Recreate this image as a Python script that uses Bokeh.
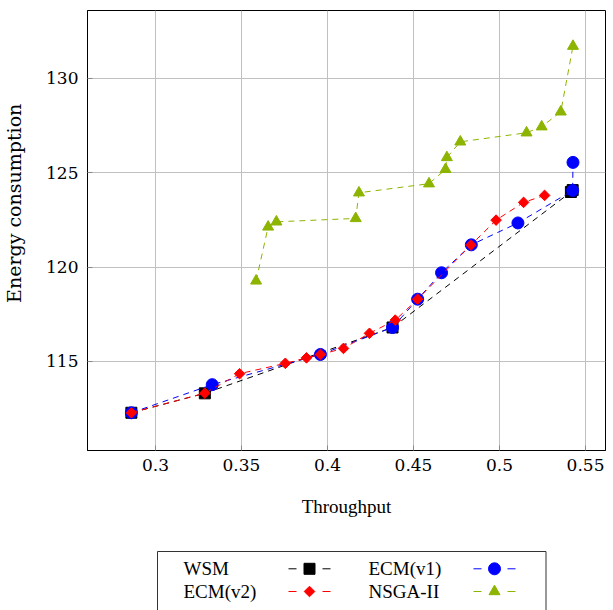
import numpy as np
from bokeh.plotting import figure
from bokeh.models import Range1d, FixedTicker, CustomJSTickFormatter
from bokeh.layouts import column
from bokeh.embed import file_html
from bokeh.resources import INLINE
from bokeh.core.properties import value

# ---------------- data ----------------
wsm_x = [0.286, 0.3287, 0.4378, 0.5415, 0.5425]
wsm_y = [112.28, 113.31, 116.80, 123.98, 124.08]

ecm1_x = [0.286, 0.333, 0.3959, 0.4378, 0.4524, 0.4663, 0.4836, 0.5107, 0.5425, 0.5427]
ecm1_y = [112.28, 113.77, 115.37, 116.80, 118.30, 119.70, 121.18, 122.34, 124.06, 125.55]

ecm2_x = [0.286, 0.3287, 0.3489, 0.3755, 0.3878, 0.3959, 0.4093, 0.4244, 0.4394,
          0.4524, 0.4834, 0.4980, 0.5140, 0.5262]
ecm2_y = [112.28, 113.32, 114.35, 114.90, 115.19, 115.37, 115.69, 116.49, 117.19,
          118.30, 121.17, 122.49, 123.43, 123.80]

nsga_x = [0.3585, 0.3655, 0.3703, 0.4164, 0.4183, 0.4590, 0.4686, 0.4694, 0.4772,
          0.5157, 0.5245, 0.5356, 0.5427]
nsga_y = [119.27, 122.13, 122.40, 122.58, 123.94, 124.42, 125.18, 125.81, 126.64,
          127.12, 127.44, 128.23, 131.71]

series_names = ["WSM", "ECM(v1)", "ECM(v2)", "NSGA-II"]
x_ticks = [0.3, 0.35, 0.4, 0.45, 0.5, 0.55]
y_ticks = [115, 120, 125, 130]
x_label = "Throughput"
y_label = "Energy consumption"

# ---------------- styles ----------------
FONT = "Liberation Serif"
TICK_FONT = "DejaVu Serif"
GREEN = "#8cb400"
styles = [
    dict(color="black", marker="square", size=11, angle=0.0),
    dict(color="#0000ff", marker="circle", size=12, angle=0.0),
    dict(color="#ff0000", marker="square", size=7.5, angle=np.pi / 4),
    dict(color=GREEN, marker="triangle", size=11, angle=0.0),
]
series = [(wsm_x, wsm_y), (ecm1_x, ecm1_y), (ecm2_x, ecm2_y), (nsga_x, nsga_y)]
DASH = "6 5"

p = figure(frame_width=518, frame_height=440,
           x_range=Range1d(0.2605, 0.5616), y_range=Range1d(110.28, 133.6),
           output_backend="svg", toolbar_location=None,
           min_border_left=87, min_border_right=8, min_border_top=10,
           min_border_bottom=80)
p.background_fill_color = "white"
p.border_fill_color = "white"
p.outline_line_color = "black"
p.outline_line_width = 1
p.outline_line_alpha = 1.0

for (xs, ys), st in zip(series, styles):
    p.line(xs, ys, line_color=st["color"], line_width=1, line_dash=DASH)
    p.scatter(xs, ys, marker=st["marker"], size=st["size"], angle=st["angle"],
              fill_color=st["color"], line_color=st["color"], line_width=1)

fmt = CustomJSTickFormatter(code="return String(Math.round(tick*100)/100);")

p.xaxis.ticker = FixedTicker(ticks=x_ticks)
p.xaxis.formatter = fmt
p.xaxis.axis_label = x_label
p.yaxis.ticker = FixedTicker(ticks=y_ticks)
# leading no-break spaces lift the title a little above the frame centre,
# as in the reference
p.yaxis.axis_label = "\u00a0" * 9 + y_label

for ax in list(p.xaxis) + list(p.yaxis):
    ax.axis_line_color = "black"
    ax.major_tick_in = 5
    ax.major_tick_out = 0
    ax.major_tick_line_color = "#888888"
    ax.minor_tick_line_color = None
    ax.major_label_text_font = TICK_FONT
    ax.major_label_text_font_size = "17px"
    ax.major_label_text_color = "black"
    ax.axis_label_text_font = FONT
    ax.axis_label_text_font_style = "normal"
    ax.axis_label_text_color = "black"

p.xaxis.major_label_standoff = 8
p.xaxis.axis_label_text_font_size = "19px"
p.xaxis.axis_label_standoff = 22
p.yaxis.major_label_standoff = 9
p.yaxis.axis_label_text_font = TICK_FONT
p.yaxis.axis_label_text_font_size = "19px"
p.yaxis.axis_label_standoff = 18

p.xgrid.ticker = FixedTicker(ticks=x_ticks)
p.ygrid.ticker = FixedTicker(ticks=y_ticks)
p.grid.grid_line_color = "#c0c0c0"
p.grid.grid_line_width = 1

# ---------------- legend (pgfplots style: text then symbol) ----------------
# coordinates of this panel are page pixels (x from the left, y from the top)
leg = figure(frame_width=518, frame_height=80,
             x_range=Range1d(87, 605), y_range=Range1d(610, 530),
             output_backend="svg", toolbar_location=None,
             x_axis_location=None, y_axis_location=None,
             min_border_left=87, min_border_right=8,
             min_border_top=0, min_border_bottom=0)
leg.outline_line_color = None
leg.grid.visible = False
leg.background_fill_color = "white"
leg.border_fill_color = "white"

leg.quad(left=[157], right=[545.5], top=[551], bottom=[625],
         fill_color=None, line_color="#333333", line_width=1)

text_x = [183, 368]
sym_x = [288, 473]
row_y = [568.3, 591.0]
for i, (name, st) in enumerate(zip(series_names, styles)):
    r, c = divmod(i, 2)
    leg.text([text_x[c]], [row_y[r]], text=[name], text_font=value(FONT),
             text_font_size="19px", text_baseline="middle", text_align="left",
             text_color="black")
    x0 = sym_x[c]
    leg.line([x0, x0 + 42], [row_y[r], row_y[r]], line_color=st["color"],
             line_width=1, line_dash="8 26")
    leg.scatter([x0 + 21], [row_y[r]], marker=st["marker"], size=st["size"],
                angle=st["angle"], fill_color=st["color"], line_color=st["color"])

layout = column(p, leg, spacing=0)
open("out.html", "w").write(file_html(layout, INLINE))
